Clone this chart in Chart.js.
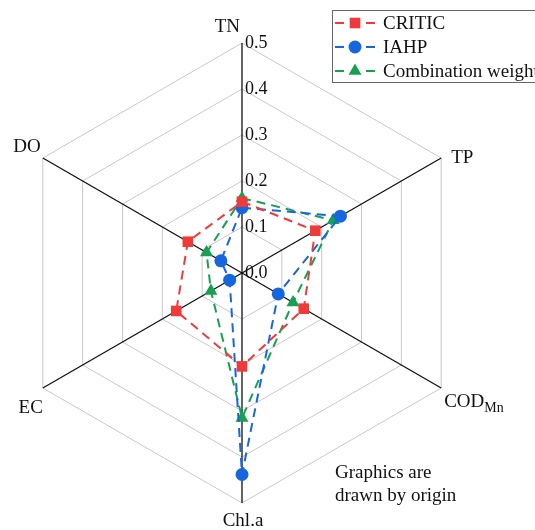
<!DOCTYPE html>
<html>
<head>
<meta charset="utf-8">
<script src="https://cdn.jsdelivr.net/npm/chart.js@4"></script>
<style>
  html, body { margin: 0; padding: 0; background: #fff; }
  #wrap { width: 535px; height: 530px; position: relative; }
</style>
</head>
<body>
<div id="wrap"><canvas id="radarChart"></canvas></div>
<script>
// indicators, clockwise from the top; "_" marks a subscript
const indicators = ['TN', 'TP', 'COD_Mn', 'Chl.a', 'EC', 'DO'];
const critic = [0.155, 0.184, 0.155, 0.203, 0.165, 0.136];
const iahp = [0.142, 0.247, 0.091, 0.438, 0.031, 0.053];
const combination = [0.163, 0.229, 0.128, 0.315, 0.078, 0.089];
const tickValues = [0.0, 0.1, 0.2, 0.3, 0.4, 0.5];
const note = ['Graphics are', 'drawn by origin'];

const SERIF = '"Liberation Serif", "DejaVu Serif", serif';
const RED = 'rgb(240, 58, 58)';
const BLUE = 'rgb(22, 102, 224)';
const GREEN = 'rgb(22, 160, 82)';

function drawMarker(ctx, style, x, y, r, color) {
    ctx.save();
    ctx.setLineDash([]);
    ctx.fillStyle = color;
    ctx.beginPath();
    if (style === 'rect') {
        const s = Math.SQRT1_2 * r;
        ctx.rect(x - s, y - s, 2 * s, 2 * s);
    } else if (style === 'circle') {
        ctx.arc(x, y, r, 0, Math.PI * 2);
    } else {
        ctx.moveTo(x, y - r);
        ctx.lineTo(x + r * 0.866, y + r * 0.5);
        ctx.lineTo(x - r * 0.866, y + r * 0.5);
        ctx.closePath();
    }
    ctx.fill();
    ctx.restore();
}

const decorations = {
    id: 'decorations',
    afterDraw(chart) {
        const ctx = chart.ctx;
        const scale = chart.scales.r;
        ctx.save();
        ctx.fillStyle = '#111';

        // tick labels to the right of the TN axis
        ctx.font = '18px ' + SERIF;
        ctx.textAlign = 'left';
        ctx.textBaseline = 'middle';
        tickValues.forEach(v => {
            const p = scale.getPointPositionForValue(0, v);
            ctx.fillText(v.toFixed(1), p.x + 3, p.y);
        });

        // axis names
        const offsets = [
            {dx: -2, dy: -11, align: 'right'},
            {dx: 10, dy: 5, align: 'left'},
            {dx: 3, dy: 19, align: 'left'},
            {dx: 1, dy: 23, align: 'center'},
            {dx: 0, dy: 25, align: 'right'},
            {dx: -2, dy: -6, align: 'right'}
        ];
        ctx.textBaseline = 'alphabetic';
        indicators.forEach((name, i) => {
            const p = scale.getPointPositionForValue(i, scale.max);
            const o = offsets[i];
            const parts = name.split('_');
            ctx.font = '19px ' + SERIF;
            ctx.textAlign = o.align;
            const x = p.x + o.dx, y = p.y + o.dy;
            ctx.fillText(parts[0], x, y);
            if (parts[1]) {
                const w = ctx.measureText(parts[0]).width;
                ctx.font = '14px ' + SERIF;
                ctx.textAlign = 'left';
                ctx.fillText(parts[1], x + w, y + 5);
            }
        });

        // legend box
        ctx.strokeStyle = '#666';
        ctx.lineWidth = 1;
        ctx.strokeRect(332.5, 10.5, 230, 72);
        ctx.font = '19px ' + SERIF;
        ctx.textAlign = 'left';
        ctx.textBaseline = 'middle';
        chart.data.datasets.forEach((ds, i) => {
            const y = 23 + i * 24;
            ctx.save();
            ctx.strokeStyle = ds.borderColor;
            ctx.lineWidth = 2;
            ctx.beginPath();
            ctx.moveTo(335, y);
            ctx.lineTo(344, y);
            ctx.moveTo(366, y);
            ctx.lineTo(375, y);
            ctx.stroke();
            ctx.restore();
            drawMarker(ctx, ds.pointStyle, 355, y, ds.pointRadius, ds.borderColor);
            ctx.fillStyle = '#111';
            ctx.fillText(ds.label, 383, y + 1);
        });

        // note at bottom right
        ctx.textBaseline = 'alphabetic';
        note.forEach((line, i) => ctx.fillText(line, 335, 478 + i * 23));
        ctx.restore();
    }
};

function series(label, data, color, style, radius) {
    return {
        label: label,
        data: data,
        borderColor: color,
        backgroundColor: color,
        pointBackgroundColor: color,
        pointBorderColor: color,
        pointBorderWidth: 0,
        pointStyle: style,
        pointRadius: radius,
        pointHoverRadius: radius,
        borderWidth: 2,
        borderDash: [9, 6],
        fill: false,
        tension: 0
    };
}

new Chart(document.getElementById('radarChart'), {
    type: 'radar',
    data: {
        labels: indicators,
        datasets: [
            series('CRITIC', critic, RED, 'rect', 7.5),
            series('IAHP', iahp, BLUE, 'circle', 6.5),
            series('Combination weight', combination, GREEN, 'triangle', 7.5)
        ]
    },
    options: {
        responsive: true,
        maintainAspectRatio: false,
        animation: false,
        layout: {padding: {top: 43, bottom: 27, left: 12, right: 63}},
        plugins: {legend: {display: false}, tooltip: {enabled: false}},
        scales: {
            r: {
                min: 0,
                max: 0.5,
                ticks: {display: false, stepSize: 0.1},
                pointLabels: {display: false},
                grid: {color: '#c8c8c8', lineWidth: 1, circular: false},
                angleLines: {color: '#111', lineWidth: 1.3}
            }
        }
    },
    plugins: [decorations]
});
</script>
</body>
</html>
